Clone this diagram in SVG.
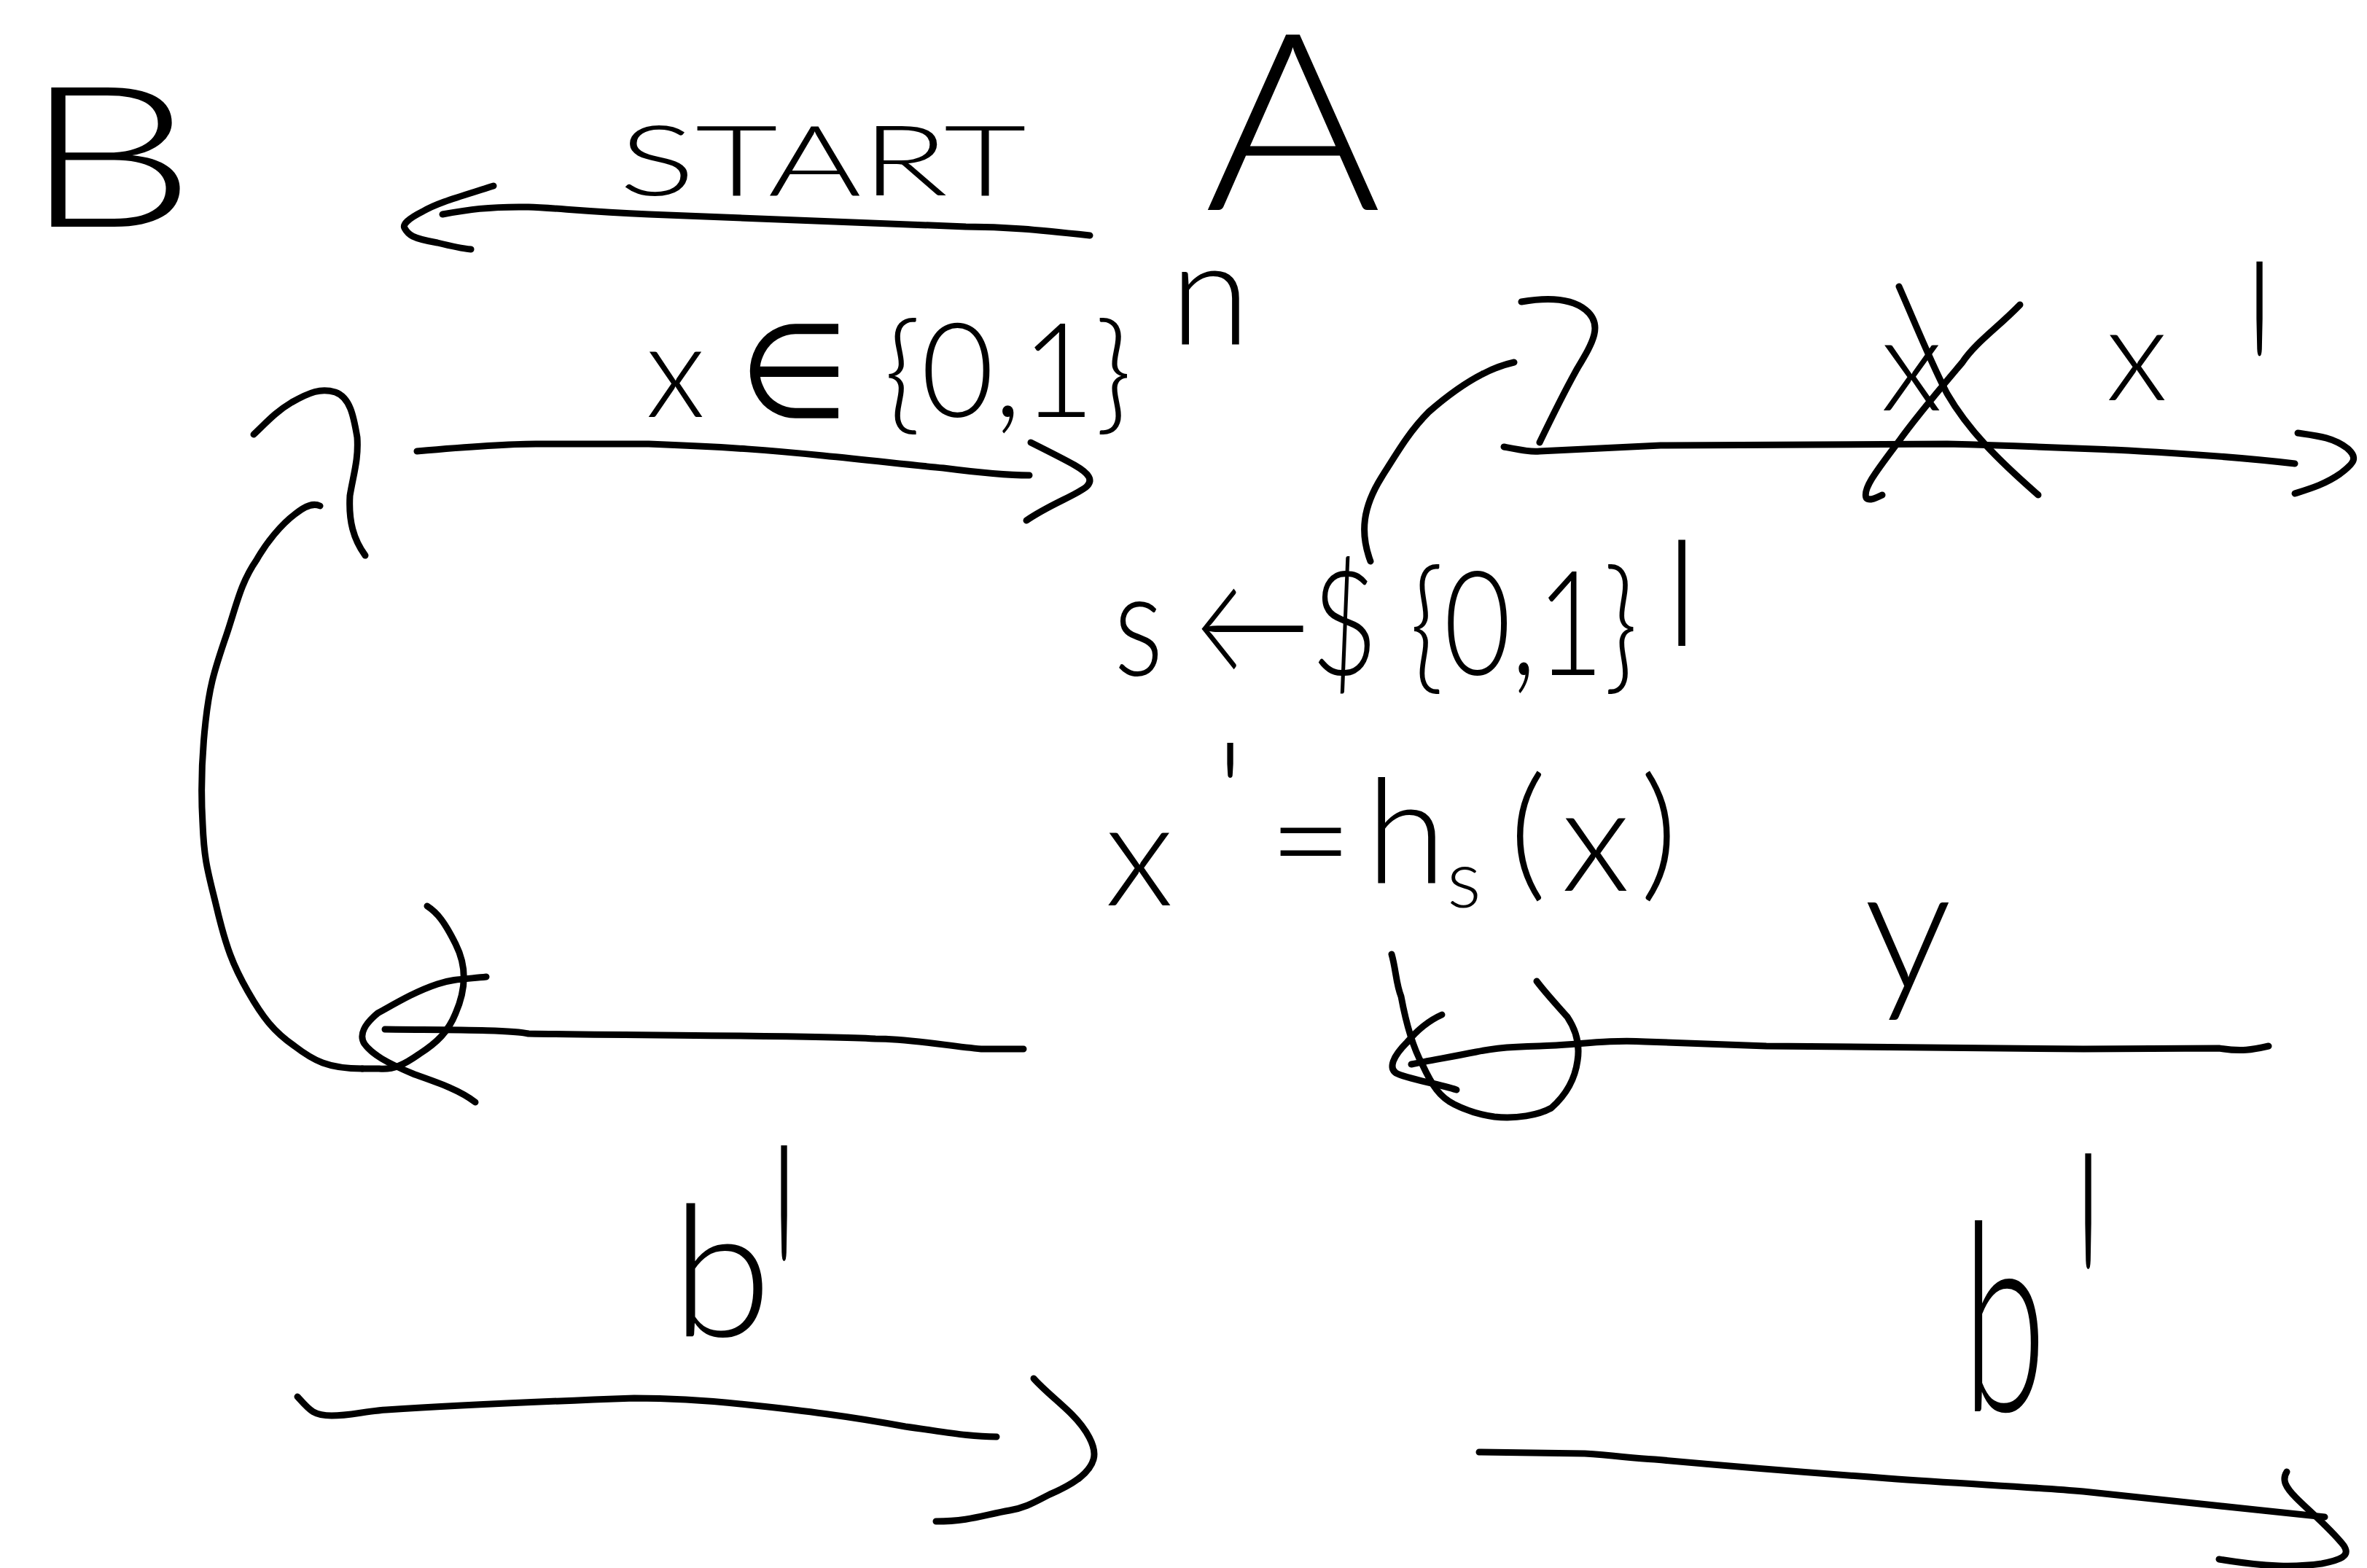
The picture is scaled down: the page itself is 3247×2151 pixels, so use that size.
<svg xmlns="http://www.w3.org/2000/svg" width="3247" height="2151" viewBox="0 0 3247 2151">
<style>
  .ink { fill: none; stroke: #000; stroke-width: 9; stroke-linecap: round; stroke-linejoin: round; }
  .t { font-family: Lato, "Liberation Sans", sans-serif; font-weight: 300; fill: #000; }
  .sym { font-family: "DejaVu Sans", sans-serif; font-weight: 200; }
</style>
<rect width="3247" height="2151" fill="#fff"/>
<g id="node-B"><text class="t" x="31" y="311" font-size="270" textLength="238" lengthAdjust="spacingAndGlyphs">B</text></g>
<g id="node-A"><text class="t" x="1652" y="288" font-size="340" textLength="243" lengthAdjust="spacingAndGlyphs">A</text></g>
<g id="label-start"><text class="t" x="849" y="268" font-size="135" textLength="559" lengthAdjust="spacingAndGlyphs">START</text></g>
<g id="label-x-in">
  <text class="t" x="886" y="572" font-size="180" textLength="667" lengthAdjust="spacingAndGlyphs">x <tspan class="sym">∈</tspan> {0,1}</text>
  <text class="t" x="1605" y="472" font-size="200">n</text>
</g>
<g id="label-xprime-top">
  <text class="t" x="2580" y="563" font-size="180">x</text>
  <text class="t" x="2889" y="549" font-size="180">x</text>
  <text class="t" font-size="200" transform="translate(3080,352) scale(1,2.7)" y="144">'</text>
</g>
<g id="label-s">
  <text class="t" x="1528" y="926" font-size="200" textLength="719" lengthAdjust="spacingAndGlyphs">s ←$ {0,1}</text>
  <text class="t" x="2285" y="886" font-size="200">l</text>
</g>
<g id="label-h">
  <text class="t" font-size="200">
    <tspan x="1516" y="1242">x</tspan><tspan x="1668" y="1160">'</tspan><tspan x="1740" y="1222">=</tspan><tspan x="1874" y="1211">h</tspan><tspan x="1985" y="1245" font-size="110">s</tspan><tspan x="2070" y="1210">(</tspan><tspan x="2142" y="1222">x</tspan><tspan x="2250" y="1210">)</tspan>
  </text>
</g>
<g id="label-y"><text class="t" x="2557" y="1357" font-size="240">y</text></g>
<g id="label-bprime-left">
  <text class="t" x="921" y="1833" font-size="250">b</text>
  <text class="t" font-size="200" transform="translate(1056,1563) scale(1,3.3)" y="144">'</text>
</g>
<g id="label-bprime-right">
  <text class="t" x="2692" y="1936" font-size="360" textLength="115" lengthAdjust="spacingAndGlyphs">b</text>
  <text class="t" font-size="200" transform="translate(2845,1574) scale(1,3.3)" y="144">'</text>
</g>
<g id="connectors">
  <!-- START arrow A -> B -->
  <path class="ink" d="M1495,323 C1420,315 1380,311 1325,311 L890,294 C800,290 760,285 725,284 C670,283 640,288 607,294"/>
  <path class="ink" d="M677,255 C630,270 600,278 580,290 C560,300 552,308 555,313 C560,322 565,327 600,333 C620,338 635,341 646,342"/>
  <!-- x arrow B -> A -->
  <path class="ink" d="M572,619 C640,613 690,609 735,609 L890,609 C1000,613 1060,618 1129,625 C1200,632 1250,638 1294,642 C1340,648 1380,652 1412,652"/>
  <path class="ink" d="M1414,607 C1440,620 1460,630 1474,638 C1495,650 1500,659 1490,668 C1475,680 1440,692 1408,714"/>
  <!-- hook curve near A -->
  <path class="ink" d="M2087,414 C2110,410 2150,405 2175,425 C2200,445 2185,470 2164,505 C2150,530 2125,580 2112,607"/>
  <path class="ink" d="M2077,497 C2040,505 2000,530 1960,565 C1935,590 1920,615 1895,655 C1870,695 1865,730 1880,770"/>
  <!-- x' arrow to the right -->
  <path class="ink" d="M2063,613 C2090,618 2100,620 2112,619 L2278,611 L2671,609 C2780,612 2850,615 2899,617 C3000,622 3080,628 3148,636"/>
  <path class="ink" d="M3152,594 C3180,598 3200,600 3220,615 C3235,628 3230,635 3210,650 C3190,664 3170,670 3148,677"/>
  <!-- cross-out over x -->
  <path class="ink" d="M2605,393 C2630,450 2650,500 2671,540 C2700,590 2740,630 2796,679"/>
  <path class="ink" d="M2771,418 C2740,450 2710,470 2692,497 C2660,535 2630,570 2605,605 C2575,645 2555,670 2560,683 C2565,688 2575,682 2582,679"/>
  <!-- y arrow to the left -->
  <path class="ink" d="M3112,1435 C3090,1440 3075,1443 3044,1438 L2858,1439 L2423,1435 L2257,1429 C2200,1426 2160,1434 2112,1435 C2060,1436 2040,1440 2025,1443 C1990,1450 1960,1455 1936,1460"/>
  <path class="ink" d="M1978,1392 C1960,1400 1945,1412 1930,1430 C1910,1450 1905,1465 1915,1472 C1930,1480 1970,1486 1998,1495"/>
  <path class="ink" d="M1909,1309 C1915,1330 1915,1350 1922,1367 C1930,1410 1940,1440 1951,1460 C1965,1490 1975,1505 1995,1515 C2015,1525 2035,1530 2050,1532 C2080,1535 2110,1530 2128,1520 C2145,1505 2160,1485 2164,1455 C2168,1430 2160,1410 2150,1395 C2135,1378 2120,1362 2108,1346"/>
  <!-- lower-left arrow to the left -->
  <path class="ink" d="M1404,1439 C1380,1439 1360,1439 1346,1439 C1300,1435 1250,1425 1201,1425 C1100,1420 900,1421 725,1418 C700,1412 600,1413 528,1412"/>
  <path class="ink" d="M667,1340 C640,1343 620,1343 600,1350 C570,1360 545,1375 518,1390 C500,1405 492,1420 500,1432 C510,1446 530,1458 569,1474 C600,1485 630,1495 652,1512"/>
  <path class="ink" d="M586,1243 C600,1252 610,1265 625,1295 C640,1325 640,1355 625,1390 C615,1415 600,1430 575,1446 C555,1460 540,1468 520,1466 C505,1466 500,1466 497,1466"/>
  <!-- big left curve up to the x arrow -->
  <path class="ink" d="M497,1466 C450,1466 430,1455 404,1435 C375,1415 360,1395 340,1360 C320,1325 310,1300 296,1240 C285,1195 280,1180 278,1130 C275,1080 277,1035 282,990 C287,945 292,925 311,870 C325,828 330,800 352,768 C365,745 385,720 405,705 C420,693 430,690 439,694"/>
  <path class="ink" d="M348,596 C365,580 378,565 400,552 C425,538 440,532 460,538 C480,545 485,570 490,600 C492,630 485,650 480,680 C478,715 485,740 501,762"/>
  <!-- b' left arrow to the right -->
  <path class="ink" d="M408,1916 C425,1935 430,1942 455,1942 C480,1942 500,1936 530,1934 C650,1926 760,1922 870,1918 C930,1918 990,1923 1035,1928 C1100,1935 1160,1942 1242,1957 C1300,1965 1330,1971 1367,1971"/>
  <path class="ink" d="M1418,1891 C1430,1905 1455,1925 1470,1940 C1490,1960 1505,1985 1500,2002 C1495,2020 1475,2035 1440,2050 C1420,2060 1408,2068 1385,2072 C1350,2078 1330,2087 1284,2087"/>
  <!-- b' right arrow to the right -->
  <path class="ink" d="M2029,1992 L2174,1994 C2220,1997 2240,2001 2270,2002 C2380,2012 2480,2020 2589,2028 C2700,2036 2790,2040 2858,2046 C2980,2058 3080,2070 3189,2081"/>
  <path class="ink" d="M3137,2019 C3130,2030 3135,2040 3150,2055 C3170,2075 3195,2095 3215,2120 C3225,2135 3210,2140 3185,2145 C3150,2150 3110,2150 3044,2139"/>
</g>
</svg>
